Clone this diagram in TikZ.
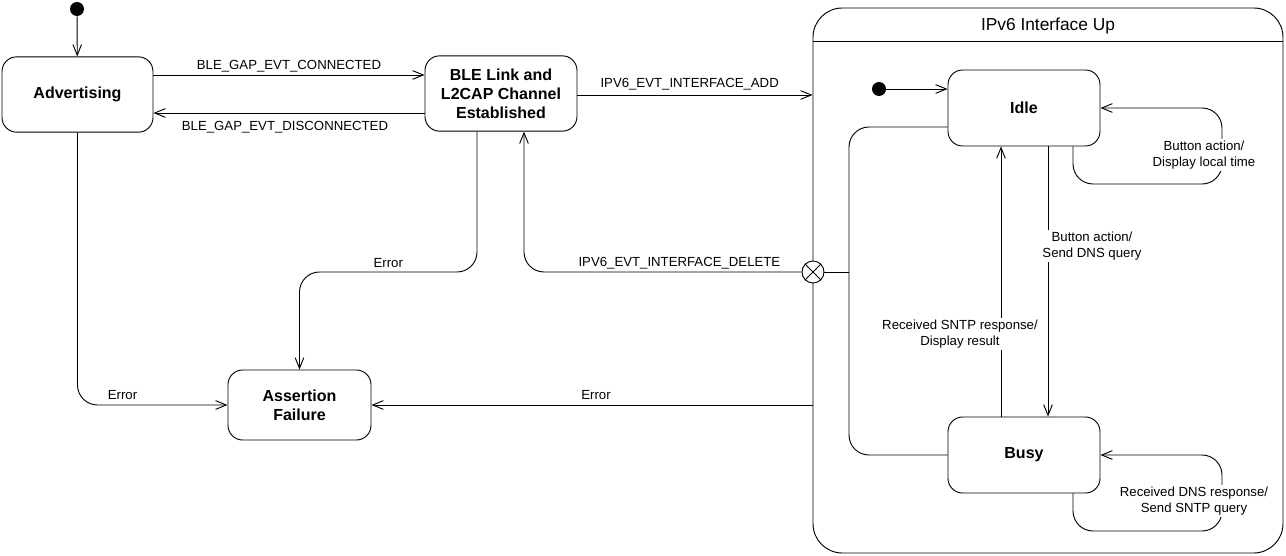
\documentclass[tikz,border=0pt]{standalone}
\usepackage{fontspec}
\setmainfont{Liberation Sans}
\usetikzlibrary{arrows.meta}
\begin{document}
\begin{tikzpicture}[x=0.75pt,y=-0.75pt, line width=0.7pt,
 >={Straight Barb[length=8pt,width=6.5pt]},
 state/.style={draw, rounded corners=11pt, align=center, inner sep=0pt, font=\bfseries\fontsize{12}{14.3}\selectfont, minimum width=114pt, minimum height=56.5pt},
 lbl/.style={font=\fontsize{9.9}{12}\selectfont, inner sep=1.5pt, align=center},
 wlbl/.style={lbl, fill=white},
 dot/.style={circle, fill=black, inner sep=0pt, minimum size=10.5pt},
 conn/.style={->, rounded corners=15pt}]
\fill[white] (0,0) rectangle (1286,556);
\useasboundingbox (0,0) rectangle (1286,556);
% nodes
\node[dot] (i1) at (77,9) {};
\node[state, minimum width=113.25pt] (adv) at (77.5,94.5) {Advertising};
\node[state] (ble) at (501,93.5) {BLE Link and\\L2CAP Channel\\Established};
\node[state, minimum width=107.25pt, minimum height=52.5pt] (af) at (299.5,405) {Assertion\\Failure};
\node[draw, rounded corners=22pt, minimum width=352.5pt, minimum height=408.75pt, inner sep=0pt] (up) at (1048,280.5) {};
\node[font=\fontsize{13}{15}\selectfont] (title) at (1048,26) {IPv6 Interface Up};
\draw (up.west |- 0,41) -- (up.east |- 0,41);
\node[state, minimum height=57pt] (idle) at (1024,108) {Idle};
\node[state, minimum height=57pt] (busy) at (1024,455) {Busy};
\node[dot] (i2) at (879,89) {};
\node[draw, circle, fill=white, minimum size=16.5pt, inner sep=0pt] (x) at (813,272) {};
\draw (x.north west) -- (x.south east) (x.north east) -- (x.south west);
% outer transitions
\draw[->] (i1) -- (adv);
\draw[->] (adv.east |- 0,75) -- node[lbl, above] (lc) {BLE\_GAP\_EVT\_CONNECTED} (ble.west |- 0,75);
\draw[->] (ble.west |- 0,113) -- node[lbl, below=4.5pt, xshift=-3pt] (ld) {BLE\_GAP\_EVT\_DISCONNECTED} (adv.east |- 0,113);
\draw[->] (ble.east |- 0,95) -- node[lbl, above=1.5pt, xshift=-4pt] (la) {IPV6\_EVT\_INTERFACE\_ADD} (up.west |- 0,95);
% inner transitions
\draw[->] (i2) -- (idle.west |- i2);
\draw[conn] (idle.south -| 1073,0) |- (1222,184) |- (idle.east |- 0,108);
\node[wlbl] (l1) at (1204,155) {Button action/\\Display local time};
\draw[conn] (busy.south -| 1073,0) |- (1222,531) |- (busy.east |- 0,455);
\node[wlbl] (l2) at (1194,501) {Received DNS response/\\Send SNTP query};
\draw[->] (idle.south -| 1048,0) -- (busy.north -| 1048,0);
\node[wlbl] (l3) at (1092,246) {Button action/\\Send DNS query};
\draw[->] (busy.north -| 1001,0) -- (idle.south -| 1001,0);
\node[wlbl] (l4) at (960,334) {Received SNTP response/\\Display result};
% exit
\draw[rounded corners=15pt] (idle.west |- 0,127) -| (849,300) |- (busy.west |- 0,455);
\draw (849,272) -- (x.east);
\draw[conn] (x.west) -| node[lbl, above, pos=0.22] (le) {IPV6\_EVT\_INTERFACE\_DELETE} (ble.south -| 524,0);
% errors
\draw[conn] (ble.south -| 477,0) |- node[lbl, above=1.5pt, pos=0.75] (e1) {Error} (af.north |- x) -- (af.north);
\draw[conn] (adv.south) |- node[lbl, above=2.5pt, pos=0.65] (e2) {Error} (af.west);
\draw[->] (up.west |- af.east) -- node[lbl, above=2.5pt, xshift=3pt] (e3) {Error} (af.east);
\end{tikzpicture}
\end{document}
